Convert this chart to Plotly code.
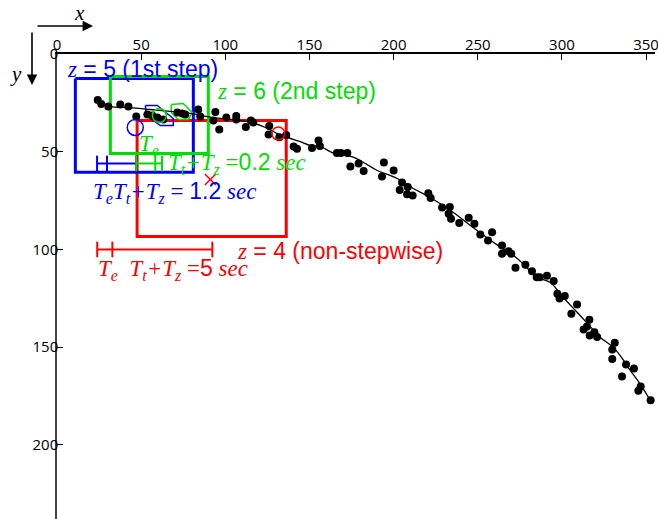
import plotly.graph_objects as go

# Observed ball positions (x, y) in image units; y grows downward
obs_x = [24.2, 26.3, 30.5, 37.6, 42.4, 47.1, 53.7, 56.6, 59.6, 63.2,
         71.5, 74.4, 76.2, 83.9, 85.1, 94.1, 92.9, 96.4, 100.6, 106.5,
         106.5, 112.2, 115.2, 116.6, 126.1, 125.7, 132.1, 136.2, 140.6, 142.6,
         151.5, 155.4, 156.2, 166.3, 168.7, 172.5, 174.3, 179.2, 182.2, 194.2,
         193.1, 200.0, 205.0, 203.6, 208.4, 208.0, 211.3, 220.6, 222.0, 228.8,
         233.4, 232.7, 234.1, 239.0, 244.6, 248.0, 251.5, 256.1, 258.5, 264.4,
         264.4, 268.3, 269.9, 272.4, 278.3, 282.2, 285.0, 286.8, 291.1, 295.1,
         297.3, 298.6, 301.7, 305.6, 309.0, 316.3, 314.9, 312.9, 319.3, 316.5,
         320.9, 331.4, 329.9, 329.9, 338.1, 342.8, 335.7, 346.8, 345.4, 352.7]
obs_y = [23.5, 25.6, 26.9, 25.8, 26.9, 32.0, 30.9, 31.5, 32.5, 33.5,
         29.9, 30.4, 30.9, 28.4, 32.0, 29.7, 34.0, 38.6, 32.5, 31.7,
         33.5, 37.3, 34.0, 35.0, 36.8, 41.2, 42.6, 41.5, 47.3, 48.5,
         48.1, 44.2, 47.1, 50.7, 50.7, 50.7, 57.5, 56.0, 59.8, 55.5,
         62.7, 59.6, 65.7, 69.6, 68.1, 71.7, 72.4, 71.3, 73.7, 78.5,
         78.3, 81.7, 84.3, 86.4, 83.8, 86.9, 92.4, 95.4, 91.2, 98.0,
         102.2, 100.9, 102.2, 109.4, 107.8, 111.1, 114.2, 114.2, 113.5, 116.2,
         122.7, 125.1, 123.8, 132.9, 128.1, 135.9, 139.4, 140.9, 142.4, 144.0,
         144.8, 147.7, 151.2, 156.0, 158.9, 160.9, 165.0, 170.1, 172.3, 177.2]

# Smoothed trajectory
fit_x = [23.9, 31.7, 43.6, 55.4, 67.3, 79.2, 92.9, 103.0, 114.9, 123.8,
         130.9, 136.8, 144.6, 150.5, 156.4, 164.2, 176.0, 183.2, 190.3, 202.2,
         211.7, 221.8, 235.5, 245.6, 254.5, 263.4, 273.5, 285.4, 293.1, 300.8,
         308.0, 315.1, 322.8, 330.5, 335.9, 340.6, 346.6, 352.5]
fit_y = [25.3, 26.9, 27.4, 28.4, 29.4, 30.4, 32.5, 33.5, 34.9, 37.6,
         40.7, 42.7, 44.8, 46.8, 47.3, 50.7, 52.8, 56.0, 59.6, 63.7,
         68.8, 73.4, 81.1, 87.7, 93.4, 98.8, 104.6, 114.3, 116.9, 124.6,
         131.2, 137.8, 145.0, 150.1, 155.8, 161.9, 169.0, 177.2]

# Search windows [x0, x1, y0, y1] for each step
win_z5 = [10.9, 81.0, 12.5, 60.5]   # 1st step
win_z6 = [31.7, 89.9, 11.5, 50.9]   # 2nd step
win_z4 = [47.6, 136.2, 34.0, 93.4]  # non-stepwise

# Time-interval bars: tick positions along x, and the bar's y
bar_z5_x = [23.8, 29.7, 47.1]
bar_z6_x = [47.1, 58.4, 62.4]
bar_z4_x = [23.9, 32.9, 92.3]
bar_z56_y = 56.0
bar_z4_y = 100.0

# Predicted positions / hints
blue_circle = (46.5, 37.6)
green_circle = (60.8, 31.5)
red_circle = (131.5, 40.7)
red_cross = (91.1, 64.2)
blue_poly_x = [52.5, 59.6, 63.2, 69.1, 69.1, 61.4, 53.1, 52.5]
blue_poly_y = [26.3, 26.3, 28.9, 33.0, 36.6, 36.6, 31.5, 26.3]
green_poly_x = [67.9, 75.0, 80.4, 78.0, 72.1, 67.9, 67.9]
green_poly_y = [25.8, 25.3, 29.9, 33.5, 33.5, 29.9, 25.8]

BLUE = "#0000ff"
GREEN = "#00e000"
RED = "#ff0000"
SERIF = "Liberation Serif"
SANS = "Liberation Sans"

fig = go.Figure()


def box(win, color):
    x0, x1, y0, y1 = win
    fig.add_trace(go.Scatter(x=[x0, x1, x1, x0, x0], y=[y0, y0, y1, y1, y0],
                             mode="lines", line=dict(color=color, width=3),
                             hoverinfo="skip", showlegend=False))


def bar(xs, y, color, half=4.0):
    px, py = [xs[0], xs[-1], None], [y, y, None]
    for x in xs:
        px += [x, x, None]
        py += [y - half, y + half, None]
    fig.add_trace(go.Scatter(x=px, y=py, mode="lines",
                             line=dict(color=color, width=2),
                             hoverinfo="skip", showlegend=False))


box(win_z4, RED)
box(win_z5, BLUE)
box(win_z6, GREEN)
bar(bar_z5_x, bar_z56_y, BLUE)
bar(bar_z6_x, bar_z56_y, GREEN)
bar(bar_z4_x, bar_z4_y, RED)

fig.add_trace(go.Scatter(x=blue_poly_x, y=blue_poly_y, mode="lines",
                         line=dict(color=BLUE, width=1.5), showlegend=False))
fig.add_trace(go.Scatter(x=green_poly_x, y=green_poly_y, mode="lines",
                         line=dict(color=GREEN, width=1.5), showlegend=False))

# Observations and trajectory
fig.add_trace(go.Scatter(x=obs_x, y=obs_y, mode="markers",
                         marker=dict(color="black", size=8), showlegend=False))
fig.add_trace(go.Scatter(x=fit_x, y=fit_y, mode="lines", line_shape="spline",
                         line=dict(color="black", width=1.3), showlegend=False))

for (cx, cy), color, size, sym in [
        (blue_circle, BLUE, 16, "circle-open"),
        (green_circle, GREEN, 14, "circle-open"),
        (red_circle, RED, 13, "circle-open"),
        (red_cross, RED, 11, "x-thin-open")]:
    fig.add_trace(go.Scatter(x=[cx], y=[cy], mode="markers",
                             marker=dict(symbol=sym, size=size, color=color,
                                         line=dict(color=color, width=1.5)),
                             showlegend=False))


def sans(s):
    return f"<span style='font-family:{SANS};font-style:normal'>{s}</span>"


labels = [
    (5.0, 7.9, f"<i>z</i>{sans(' = 5 (1st step)')}", BLUE, 23),
    (94.0, 18.7, f"<i>z</i>{sans(' = 6 (2nd step)')}", GREEN, 23),
    (106.0, 101.0, f"<i>z</i>{sans(' = 4 (non-stepwise)')}", RED, 23),
    (47.5, 46.5, "<i>T<sub>e</sub></i>", GREEN, 23),
    (64.8, 56.0, f"<i>T<sub>t</sub>+T<sub>z</sub></i> ={sans('0.2')} <i>sec</i>", GREEN, 23),
    (20.0, 70.7, f"<i>T<sub>e</sub>T<sub>t</sub>+T<sub>z</sub></i> = {sans('1.2')} <i>sec</i>", BLUE, 23),
    (23.0, 110.2, f"<i>T<sub>e</sub></i>  <i>T<sub>t</sub>+T<sub>z</sub></i> ={sans('5')} <i>sec</i>", RED, 23),
]
for x, y, t, c, s in labels:
    fig.add_annotation(x=x, y=y, xref="x", yref="y", text=t, showarrow=False,
                       xanchor="left", yanchor="middle",
                       font=dict(family=SERIF, size=s, color=c))

# Coordinate-frame arrows, placed in pixels from the plot's top-left corner
corner = dict(x=0, y=1, xref="paper", yref="paper")
fig.add_annotation(**corner, xshift=36, yshift=28, ax=-61, ay=0, text="",
                   showarrow=True, arrowhead=2, arrowsize=1.3, arrowwidth=1.6,
                   arrowcolor="black")
fig.add_annotation(**corner, xshift=-25, yshift=-31, ax=0, ay=-59, text="",
                   showarrow=True, arrowhead=2, arrowsize=1.3, arrowwidth=1.6,
                   arrowcolor="black")
fig.add_annotation(**corner, xshift=22, yshift=41, text="<i>x</i>", showarrow=False,
                   xanchor="center", yanchor="middle",
                   font=dict(family=SERIF, size=21, color="black"))
fig.add_annotation(**corner, xshift=-41, yshift=-20, text="<i>y</i>", showarrow=False,
                   xanchor="center", yanchor="middle",
                   font=dict(family=SERIF, size=21, color="black"))

fig.update_layout(
    width=658, height=519,
    margin=dict(l=57, r=3, t=54, b=0),
    paper_bgcolor="white", plot_bgcolor="white",
    showlegend=False,
    font=dict(family="Open Sans", size=15, color="black"),
)
fig.update_xaxes(side="top", range=[0, 355.3], tickvals=[0, 50, 100, 150, 200, 250, 300, 350],
                 ticklabeloverflow="allow", ticklabelstandoff=-4,
                 showgrid=False, zeroline=False, showline=True, linecolor="black",
                 linewidth=1.5, ticks="inside", ticklen=6, tickcolor="black")
fig.update_yaxes(range=[237.9, 0], tickvals=[0, 50, 100, 150, 200],
                 ticklabelstandoff=-6,
                 showgrid=False, zeroline=False, showline=True, linecolor="#444",
                 linewidth=1.5, ticks="inside", ticklen=6, tickcolor="black")

fig.write_html("out.html")
